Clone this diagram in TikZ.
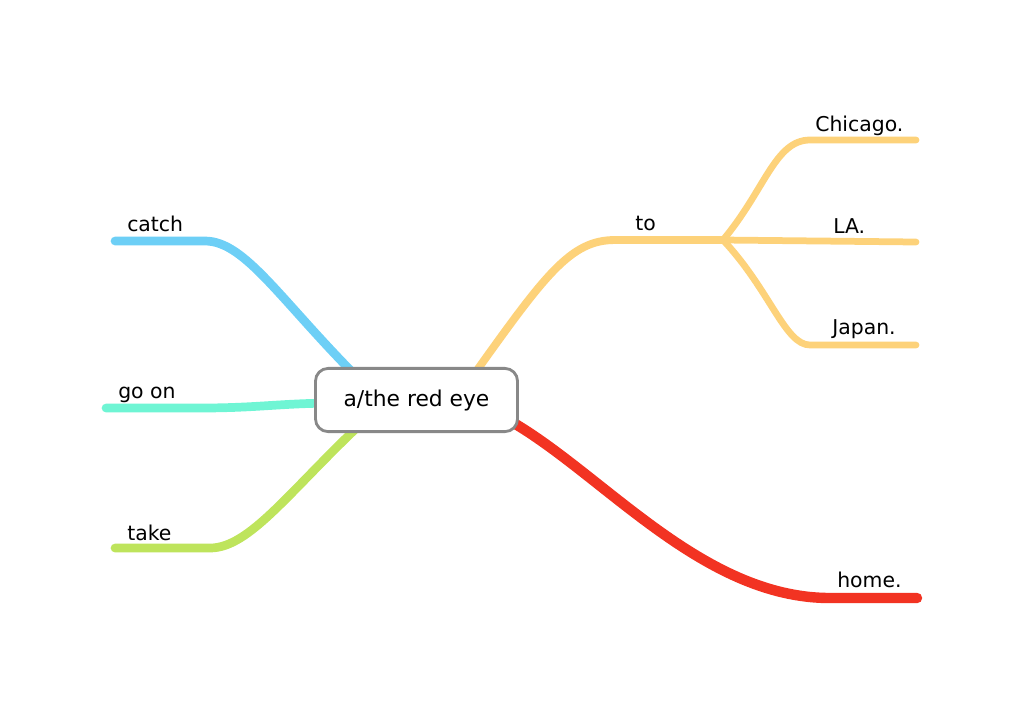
\documentclass[tikz,border=0pt]{standalone}
\usepackage{fontspec}
\setmainfont{DejaVu Sans}
\usetikzlibrary{backgrounds}

\definecolor{skyline}{HTML}{6DCFF6}
\definecolor{aqualine}{HTML}{6FF5D4}
\definecolor{limeline}{HTML}{BEE45C}
\definecolor{sandline}{HTML}{FDD27A}
\definecolor{redline}{HTML}{F23322}
\definecolor{boxgray}{HTML}{888888}

\begin{document}
\begin{tikzpicture}[x=0.025cm,y=-0.025cm,
    branch/.style={line width=6.2pt,line cap=round},
    twig/.style={line width=4.8pt,line cap=round,draw=sandline},
    word/.style={anchor=base west,inner sep=0pt,font=\fontsize{14.5}{16}\selectfont}]
            \useasboundingbox (0,0) rectangle (1024,700);

            \node [rectangle,draw=boxgray,line width=2pt,rounded corners=9pt,fill=white,
                   minimum width=5.05cm,minimum height=1.58cm,
                   font=\fontsize{15.5}{17}\selectfont] (eye) at (416.5,400) {a/the red eye};

            \node [word] (catch) at (127,231) {catch};
            \node [word] (goon) at (118,398) {go on};
            \node [word] (take) at (127,540) {take};
            \node [word] (to) at (635,230) {to};
            \node [word] (chicago) at (815,131) {Chicago.};
            \node [word] (la) at (833,233) {LA.};
            \node [word] (japan) at (832,334) {Japan.};
            \node [word] (home) at (837,587) {home.};

            \coordinate (catchend) at (115,241);
            \coordinate (catchbend) at (205,241);
            \coordinate (goonend) at (106,408);
            \coordinate (takeend) at (115,548);
            \coordinate (takebend) at (210,548);
            \coordinate (tobend) at (615,240);
            \coordinate (fork) at (723,240);
            \coordinate (chicagobend) at (810,140);
            \coordinate (chicagoend) at (916,140);
            \coordinate (laend) at (916,242);
            \coordinate (japanbend) at (810,345);
            \coordinate (japanend) at (916,345);
            \coordinate (homebend) at (830,598);
            \coordinate (homeend) at (917,598);

            \begin{pgfonlayer}{background}
            \draw[branch,skyline] (catchend) -- (catchbend)
                .. controls (245,241) and (280,300) .. (360,380);
            \draw[branch,aqualine] (goonend) -- (200,408)
                .. controls (260,408) and (280,403) .. (340,403);
            \draw[branch,limeline] (takeend) -- (takebend)
                .. controls (250,548) and (290,490) .. (365,420);
            \draw[branch,sandline,line width=5.6pt] (470,380)
                .. controls (545,275) and (570,240) .. (tobend) -- (fork);
            \draw[twig] (fork) .. controls (765,190) and (775,140) .. (chicagobend) -- (chicagoend);
            \draw[twig] (fork) -- (laend);
            \draw[twig] (fork) .. controls (770,290) and (785,345) .. (japanbend) -- (japanend);
            \draw[branch,redline,line width=7.4pt] (505,418)
                .. controls (600,470) and (700,598) .. (homebend) -- (homeend);
            \end{pgfonlayer}

        \end{tikzpicture}
\end{document}
